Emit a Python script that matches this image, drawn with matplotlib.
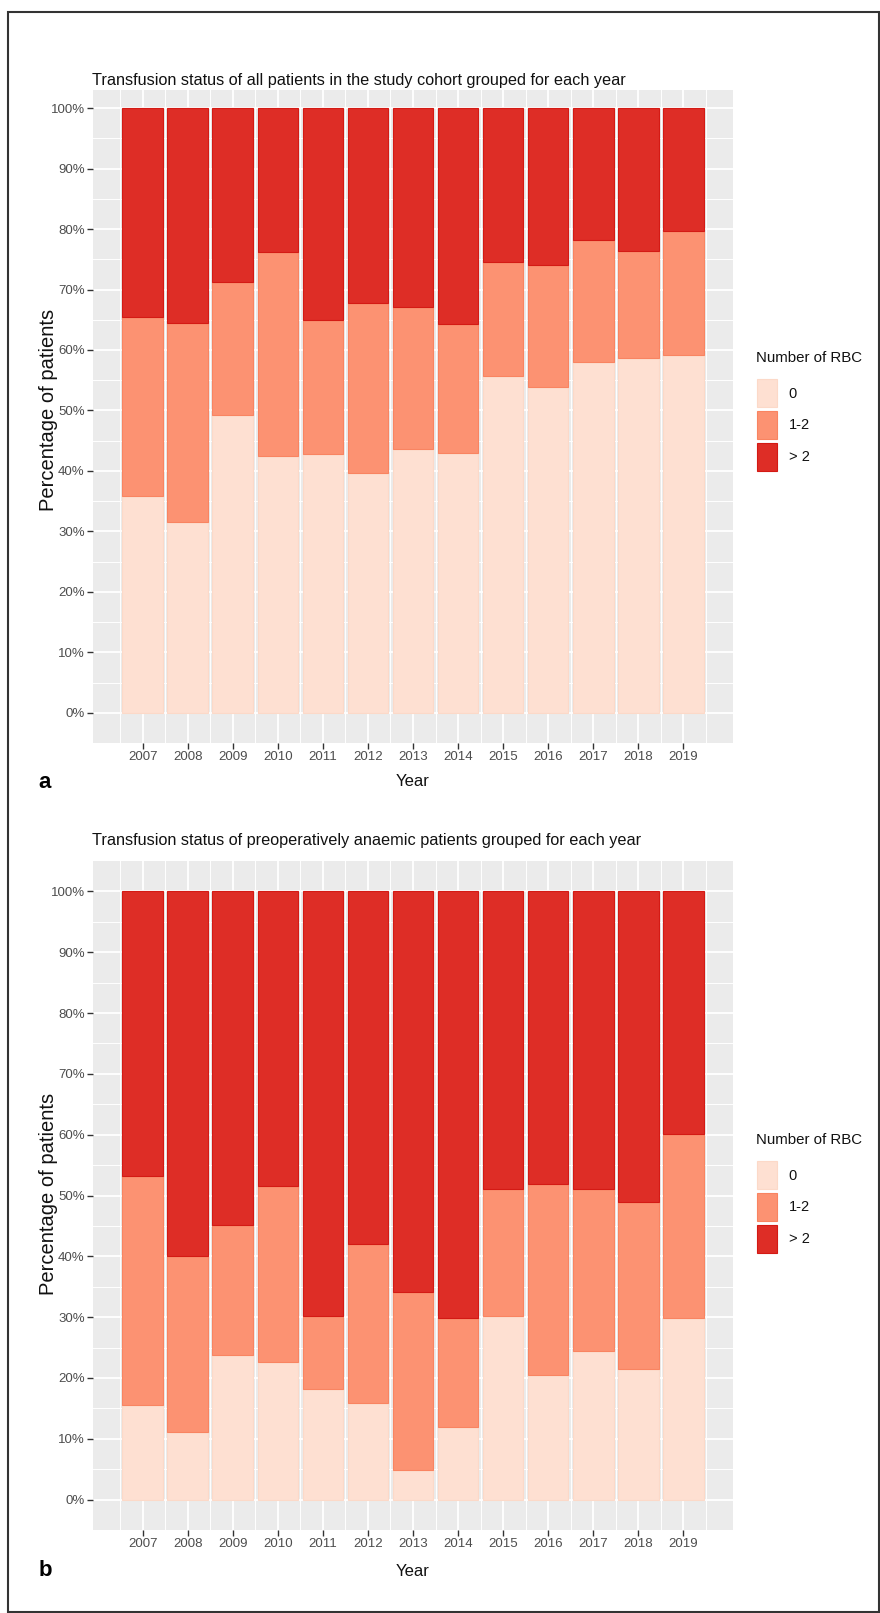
import matplotlib
matplotlib.use("Agg")
import matplotlib.pyplot as plt
from matplotlib.patches import Patch, Rectangle
import numpy as np

years = [2007, 2008, 2009, 2010, 2011, 2012, 2013, 2014, 2015, 2016, 2017, 2018, 2019]
rbc_labels = ["0", "1-2", "> 2"]
rbc_colors = ["#FEE0D2", "#FC9272", "#DE2D26"]
rbc_edges = ["#FCD9C8", "#F98461", "#D41A14"]

# panel a: all patients (percent of patients per year)
zero_a = [35.8, 31.5, 49.2, 42.5, 42.8, 39.6, 43.6, 43.0, 55.7, 53.8, 58.0, 58.7, 59.1]
one_two_a = [29.7, 33.0, 22.1, 33.7, 22.1, 28.2, 23.5, 21.3, 18.8, 20.3, 20.2, 17.6, 20.5]
more_a = [34.5, 35.5, 28.7, 23.8, 35.1, 32.2, 32.9, 35.7, 25.5, 25.9, 21.8, 23.7, 20.4]

# panel b: preoperatively anaemic patients
zero_b = [15.5, 11.1, 23.8, 22.6, 18.2, 15.8, 4.9, 12.0, 30.2, 20.5, 24.5, 21.4, 29.9]
one_two_b = [37.7, 28.9, 21.4, 29.0, 12.0, 26.3, 29.3, 17.9, 20.8, 31.4, 26.6, 27.6, 30.2]
more_b = [46.8, 60.0, 54.8, 48.4, 69.8, 57.9, 65.8, 70.1, 49.0, 48.1, 48.9, 51.0, 39.9]

titles = ["Transfusion status of all patients in the study cohort grouped for each year",
          "Transfusion status of preoperatively anaemic patients grouped for each year"]

font = "Liberation Sans"
W, H = 880, 1613
fig = plt.figure(figsize=(W / 100, H / 100), dpi=100)


def fx(px):
    return px / W


def fy(py):
    return 1 - py / H


def panel(top, bottom, ytop, title, series, letter, title_y, year_y, ylab_y, leg_y):
    ax = fig.add_axes([fx(93), fy(bottom), fx(733) - fx(93), fy(top) - fy(bottom)])
    ax.set_facecolor("#EBEBEB")
    x = np.array(years)
    base = np.zeros(len(years))
    for vals, c, e in zip(series, rbc_colors, rbc_edges):
        ax.bar(x, vals, width=0.9, bottom=base, color=c, edgecolor=e, linewidth=0.8, zorder=3)
        base = base + np.array(vals)
    ax.set_xticks(years)
    ax.set_xticks(np.arange(2006.5, 2020, 1), minor=True)
    ax.set_yticks(np.arange(0, 101, 10))
    ax.set_yticks(np.arange(5, 100, 10), minor=True)
    ax.set_xticklabels([str(y) for y in years])
    ax.set_yticklabels([f"{v}%" for v in range(0, 101, 10)])
    # limits after the ticks, so the ticks do not widen them
    ax.set_xlim(2005.9, 2020.1)
    ax.set_ylim(-5, ytop)
    ax.grid(which="major", color="white", linewidth=1.3, zorder=0)
    ax.grid(which="minor", color="white", linewidth=0.7, zorder=0)
    ax.set_axisbelow(True)
    for s in ax.spines.values():
        s.set_visible(False)
    ax.tick_params(which="major", length=4, width=1, color="#333333", labelcolor="#4D4D4D",
                   labelsize=9.5, pad=2)
    ax.tick_params(which="minor", length=0)
    for lab in ax.get_xticklabels() + ax.get_yticklabels():
        lab.set_fontfamily(font)

    fig.text(fx(92), fy(title_y), title, fontsize=11.7, family=font, color="#111111",
             ha="left", va="center")
    fig.text(fx(413), fy(year_y), "Year", fontsize=12, family=font, color="#111111",
             ha="center", va="center")
    fig.text(fx(49), fy(ylab_y), "Percentage of patients", fontsize=14.5, family=font,
             color="#111111", rotation=90, ha="center", va="center")
    fig.text(fx(45), fy(year_y), letter, fontsize=16, family=font,
             fontweight="bold", ha="center", va="center")

    # legend: title as its own text, keys below it
    fig.text(fx(756), fy(leg_y), "Number of RBC", fontsize=10.8, family=font,
             color="#111111", ha="left", va="center")
    handles = [Patch(facecolor=c, edgecolor=e, linewidth=0.8) for c, e in zip(rbc_colors, rbc_edges)]
    leg = ax.legend(handles, rbc_labels, loc="upper left",
                    bbox_to_anchor=(fx(757), fy(leg_y + 21)), bbox_transform=fig.transFigure,
                    frameon=False, prop={"family": font, "size": 10.5},
                    handlelength=1.37, handleheight=2.6, labelspacing=0.25,
                    handletextpad=0.8, borderaxespad=0, borderpad=0)
    for t in leg.get_texts():
        t.set_color("#111111")
    return ax


panel(90, 743, 103, titles[0], [zero_a, one_two_a, more_a], "a", 80, 782, 410, 358)
panel(861, 1530, 105, titles[1], [zero_b, one_two_b, more_b], "b", 840, 1571, 1194, 1140)

fig.patches.append(Rectangle((fx(7.5), fy(1612)), fx(879) - fx(7.5), fy(12) - fy(1612),
                             transform=fig.transFigure, fill=False, edgecolor="#333333",
                             linewidth=1.5))

fig.savefig("out.png", dpi=100)
